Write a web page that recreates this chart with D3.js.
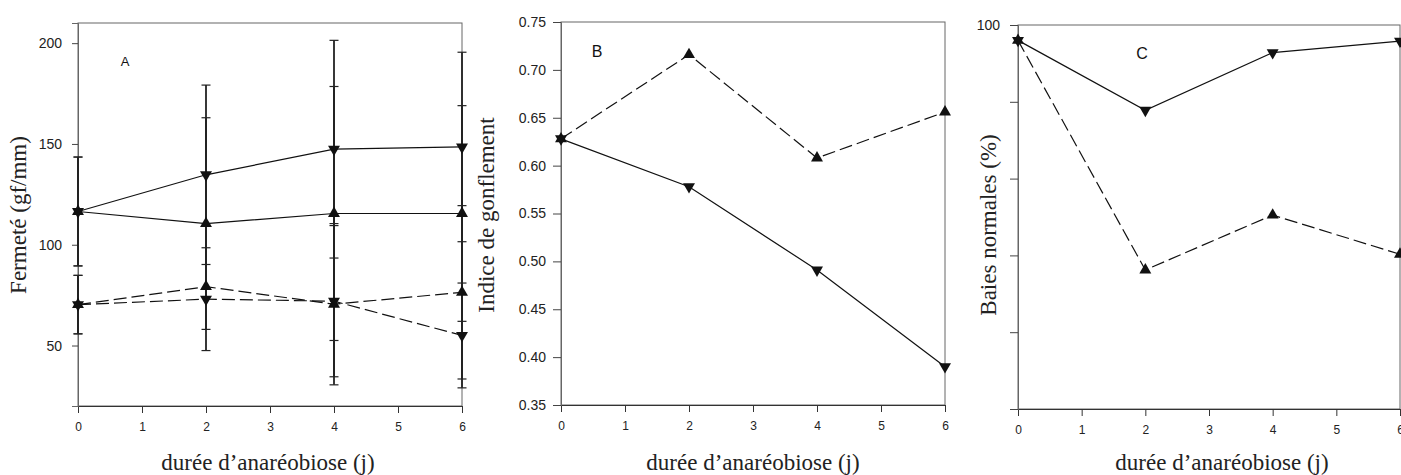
<!DOCTYPE html>
<html>
<head>
<meta charset="utf-8">
<script src="https://cdn.jsdelivr.net/npm/d3@7"></script>
<style>
	body { margin: 0; background: #fff; }
	svg { display: block; }
	.tick text { font-family: 'Liberation Sans', Arial, sans-serif; fill: #222; }
	.title { font-family: 'Liberation Serif', 'Times New Roman', serif; font-size: 23px; fill: #222; }
	.letter { font-family: 'Liberation Sans', Arial, sans-serif; fill: #111; }
</style>
</head>
<body>
<svg id="chart" width="1401" height="475"></svg>
<script>
// durée d'anaréobiose (jours)
const days = [0, 2, 4, 6]
const xTicks = [0, 1, 2, 3, 4, 5, 6]

// A : fermeté (gf/mm)
const fermeteDownSolid = [116.5, 134.7, 147.4, 148.5]
const fermeteDownSolidErr = [27, 44.5, 54, 47]
const fermeteUpSolid = [116.5, 110.5, 115.5, 115.5]
const fermeteUpSolidErr = [27, 52.5, 63, 53.5]
const fermeteUpDashed = [70.3, 79.2, 70.5, 76.4]
const fermeteUpDashedErr = [14.5, null, 40, 43]
const fermeteDownDashed = [70.3, 73, 72, 55]
const fermeteDownDashedErr = [14.5, 25.5, 37.5, 26]
const fermeteTicks = [50, 100, 150, 200]

// B : indice de gonflement
const gonflementUpDashed = [0.628, 0.716, 0.608, 0.656]
const gonflementDownSolid = [0.628, 0.578, 0.491, 0.390]
const gonflementTicks = [0.35, 0.40, 0.45, 0.50, 0.55, 0.60, 0.65, 0.70, 0.75]

// C : baies normales (%)
const baiesDownSolid = [96, 77.8, 92.8, 95.8]
const baiesUpDashed = [96, 36.2, 50.5, 40.3]
const baiesTicks = [0, 20, 40, 60, 80, 100]

const svg = d3.select('#chart')

const panels = [
	{
		letter: 'A', letterX: 125, letterY: 63, letterSize: 13,
		left: 78, right: 462, top: 23, bottom: 406,
		domain: [20, 210], ticks: fermeteTicks, fmt: d => d, tickSize: 6, tickPad: 10, ySize: 14,
		yTitle: 'Fermeté (gf/mm)', yTitleX: 21, yTitleY: 215, xTitleX: 268,
		series: [
			{ values: fermeteDownSolid, err: fermeteDownSolidErr, dashed: false, up: false },
			{ values: fermeteUpSolid, err: fermeteUpSolidErr, dashed: false, up: true },
			{ values: fermeteUpDashed, err: fermeteUpDashedErr, dashed: true, up: true },
			{ values: fermeteDownDashed, err: fermeteDownDashedErr, dashed: true, up: false },
		],
	},
	{
		letter: 'B', letterX: 597, letterY: 53, letterSize: 16,
		left: 561, right: 945, top: 22, bottom: 405,
		domain: [0.35, 0.75], ticks: gonflementTicks, fmt: d3.format('.2f'), tickSize: 8, tickPad: 7, ySize: 14,
		yTitle: 'Indice de gonflement', yTitleX: 489, yTitleY: 215, xTitleX: 753,
		series: [
			{ values: gonflementUpDashed, dashed: true, up: true },
			{ values: gonflementDownSolid, dashed: false, up: false },
		],
	},
	{
		letter: 'C', letterX: 1142, letterY: 55, letterSize: 16,
		left: 1018, right: 1400, top: 25, bottom: 409,
		domain: [0, 100], ticks: baiesTicks, fmt: d => (d == 100 ? '100' : ''), tickSize: 8, tickPad: 10, ySize: 14,
		yTitle: 'Baies normales (%)', yTitleX: 991, yTitleY: 225, xTitleX: 1222,
		series: [
			{ values: baiesDownSolid, dashed: false, up: false },
			{ values: baiesUpDashed, dashed: true, up: true },
		],
	},
]

const tri = d3.symbol().type(d3.symbolTriangle).size(62)

panels.forEach(p => {
	const x = d3.scaleLinear().domain([0, 6]).range([p.left, p.right])
	const y = d3.scaleLinear().domain(p.domain).range([p.bottom, p.top])
	const g = svg.append('g')

	// cadre
	g.append('rect')
		.attr('x', p.left)
		.attr('y', p.top)
		.attr('width', p.right - p.left)
		.attr('height', p.bottom - p.top)
		.attr('fill', 'none')
		.attr('stroke', '#666')
		.attr('stroke-width', 1)

	const xa = g.append('g')
		.attr('transform', `translate(0,${p.bottom})`)
		.call(d3.axisBottom(x).tickValues(xTicks).tickSize(7).tickPadding(9).tickFormat(d => d))
	xa.select('.domain').attr('stroke', '#333')
	xa.selectAll('.tick line').attr('stroke', '#333')
	xa.selectAll('.tick text').attr('font-size', 12)

	const ya = g.append('g')
		.attr('transform', `translate(${p.left},0)`)
		.call(d3.axisLeft(y).tickValues(p.ticks).tickSize(p.tickSize).tickPadding(p.tickPad).tickFormat(p.fmt))
	ya.select('.domain').attr('stroke', '#666')
	ya.selectAll('.tick line').attr('stroke', '#444')
	ya.selectAll('.tick text').attr('font-size', p.ySize)

	// barres d'erreur
	p.series.forEach(s => {
		if (!s.err) return
		s.values.forEach((v, i) => {
			const e = s.err[i]
			if (e == null) return
			const cx = x(days[i])
			g.append('line')
				.attr('x1', cx).attr('x2', cx)
				.attr('y1', y(v - e)).attr('y2', y(v + e))
				.attr('stroke', '#222').attr('stroke-width', 1.8)
			;[v - e, v + e].forEach(c => {
				g.append('line')
					.attr('x1', cx - 4.5).attr('x2', cx + 4.5)
					.attr('y1', y(c)).attr('y2', y(c))
					.attr('stroke', '#222').attr('stroke-width', 1.2)
			})
		})
	})

	const line = d3.line().x((d, i) => x(days[i])).y(d => y(d))
	p.series.forEach(s => {
		g.append('path')
			.attr('d', line(s.values))
			.attr('fill', 'none')
			.attr('stroke', '#111')
			.attr('stroke-width', 1.2)
			.attr('stroke-dasharray', s.dashed ? '13,5' : null)
	})
	p.series.forEach(s => {
		g.selectAll(null)
			.data(s.values)
			.enter()
			.append('path')
			.attr('d', tri)
			.attr('transform', (d, i) => `translate(${x(days[i])},${y(d)}) rotate(${s.up ? 0 : 180})`)
			.attr('fill', '#111')
	})

	g.append('text')
		.attr('class', 'letter')
		.attr('x', p.letterX)
		.attr('y', p.letterY)
		.attr('text-anchor', 'middle')
		.attr('dominant-baseline', 'middle')
		.attr('font-size', p.letterSize)
		.text(p.letter)

	g.append('text')
		.attr('class', 'title')
		.attr('transform', `translate(${p.yTitleX},${p.yTitleY}) rotate(-90)`)
		.attr('text-anchor', 'middle')
		.attr('dominant-baseline', 'middle')
		.text(p.yTitle)

	g.append('text')
		.attr('class', 'title')
		.attr('x', p.xTitleX)
		.attr('y', 465)
		.attr('text-anchor', 'middle')
		.attr('dominant-baseline', 'middle')
		.text('durée d’anaréobiose (j)')
})
</script>
</body>
</html>
